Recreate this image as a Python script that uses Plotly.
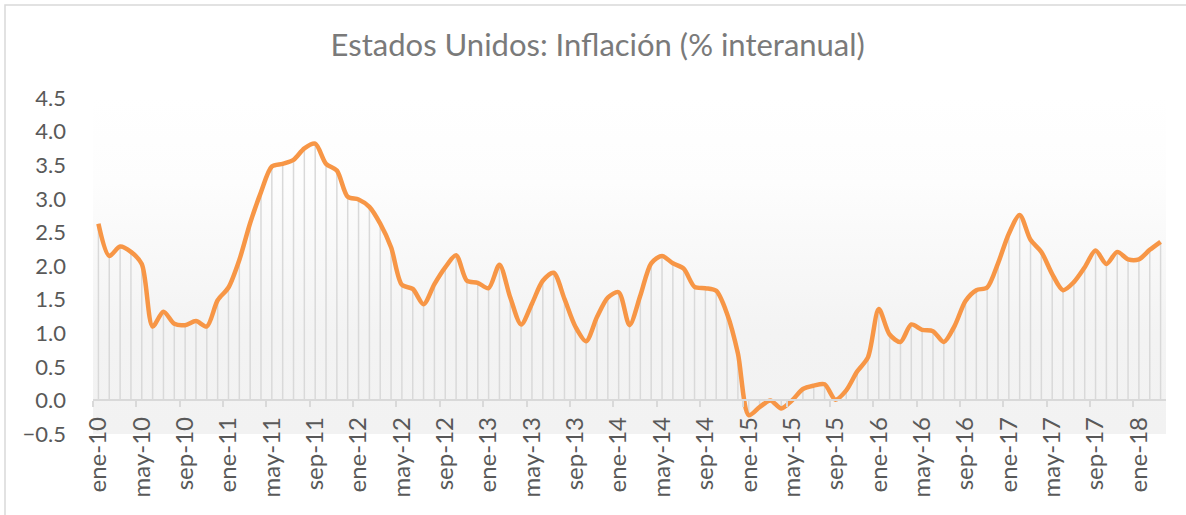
import plotly.graph_objects as go

months = ["ene", "feb", "mar", "abr", "may", "jun", "jul", "ago", "sep", "oct", "nov", "dic"]
categories = [f"{m}-{y:02d}" for y in range(10, 19) for m in months][:99]  # ene-10 .. mar-18

inflation = [
    # 2010
    2.63, 2.15, 2.29, 2.21, 2.03, 1.10, 1.32, 1.14, 1.12, 1.18, 1.10, 1.49,
    # 2011
    1.68, 2.09, 2.64, 3.10, 3.48, 3.52, 3.58, 3.75, 3.82, 3.52, 3.42, 3.03,
    # 2012
    2.99, 2.88, 2.63, 2.28, 1.72, 1.66, 1.43, 1.73, 1.98, 2.16, 1.78, 1.75,
    # 2013
    1.67, 2.02, 1.53, 1.13, 1.44, 1.78, 1.90, 1.51, 1.10, 0.88, 1.24, 1.53,
    # 2014
    1.61, 1.12, 1.56, 2.04, 2.15, 2.04, 1.96, 1.69, 1.67, 1.63, 1.29, 0.70,
    # 2015
    -0.22, -0.10, 0.00, -0.12, 0.00, 0.17, 0.22, 0.24, 0.01, 0.15, 0.43, 0.64,
    # 2016
    1.36, 0.98, 0.87, 1.13, 1.05, 1.03, 0.87, 1.11, 1.48, 1.64, 1.68, 2.04,
    # 2017
    2.48, 2.76, 2.39, 2.21, 1.88, 1.64, 1.76, 1.98, 2.23, 2.03, 2.21, 2.10,
    # 2018
    2.10, 2.24, 2.36,
]

y_ticks = [-0.5, 0.0, 0.5, 1.0, 1.5, 2.0, 2.5, 3.0, 3.5, 4.0, 4.5]
label_step = 4

idx = list(range(len(categories)))
n = len(categories)

# drop lines from each point to zero
drop_x, drop_y = [], []
for i, v in zip(idx, inflation):
    drop_x += [i, i, None]
    drop_y += [0, v, None]

fig = go.Figure()

# gradient background of plot area
fig.add_trace(go.Scatter(
    x=[-0.5, n - 0.5, n - 0.5, -0.5, -0.5],
    y=[y_ticks[0], y_ticks[0], y_ticks[-1], y_ticks[-1], y_ticks[0]],
    fill="toself",
    fillgradient=dict(type="vertical",
                      colorscale=[[0, "#f2f2f2"], [0.3, "#f3f3f3"], [0.75, "#fdfdfd"], [1, "#ffffff"]]),
    line=dict(width=0), mode="lines", hoverinfo="skip", showlegend=False,
))

fig.add_trace(go.Scatter(
    x=drop_x, y=drop_y, mode="lines",
    line=dict(color="#d9d9d9", width=1.5),
    hoverinfo="skip", showlegend=False,
))

fig.add_trace(go.Scatter(
    x=idx, y=inflation, mode="lines",
    line=dict(color="#f79646", width=4.5, shape="spline", smoothing=0.8),
    showlegend=False,
))

tickvals = idx[::label_step]
ticktext = categories[::label_step]
boundary_ticks = [i - 0.5 for i in tickvals]

fig.update_layout(
    width=1186, height=515,
    margin=dict(l=93, r=20, t=98, b=81),
    paper_bgcolor="white", plot_bgcolor="white",
    title=dict(text="Estados Unidos: Inflación (% interanual)",
               x=0.504, xref="container", xanchor="center",
               y=1 - 45 / 515, yref="container", yanchor="middle",
               font=dict(family="Lato", size=31, color="#7a7a7a")),
    xaxis=dict(
        range=[-0.5, n - 0.5], tickmode="array", tickvals=tickvals, ticktext=ticktext,
        tickangle=-90, ticks="", showgrid=False, zeroline=False,
        showline=True, linecolor="#d9d9d9", linewidth=2,
        anchor="free", position=0.1, ticklabelstandoff=6, automargin=False,
        tickfont=dict(family="Lato", size=24, color="#595959"),
        minor=dict(tickmode="array", tickvals=boundary_ticks, ticks="outside",
                   ticklen=6, tickwidth=1.5, tickcolor="#d9d9d9", showgrid=False),
    ),
    yaxis=dict(
        range=[y_ticks[0], y_ticks[-1]], tickmode="array", tickvals=y_ticks,
        tickformat=".1f", ticks="", showgrid=False, zeroline=False, showline=False,
        ticklabelstandoff=26, automargin=False,
        tickfont=dict(family="Lato", size=22, color="#595959"),
    ),
    shapes=[dict(type="rect", xref="paper", yref="paper",
                 x0=(5 - 93) / 1073, x1=(1200 - 93) / 1073,
                 y0=1 - (530 - 98) / 336, y1=1 + (98 - 5) / 336,
                 line=dict(color="#d9d9d9", width=1.5), layer="below")],
)

fig.write_html("out.html", config={"displayModeBar": False},
               post_script="document.body.style.margin='0';")
